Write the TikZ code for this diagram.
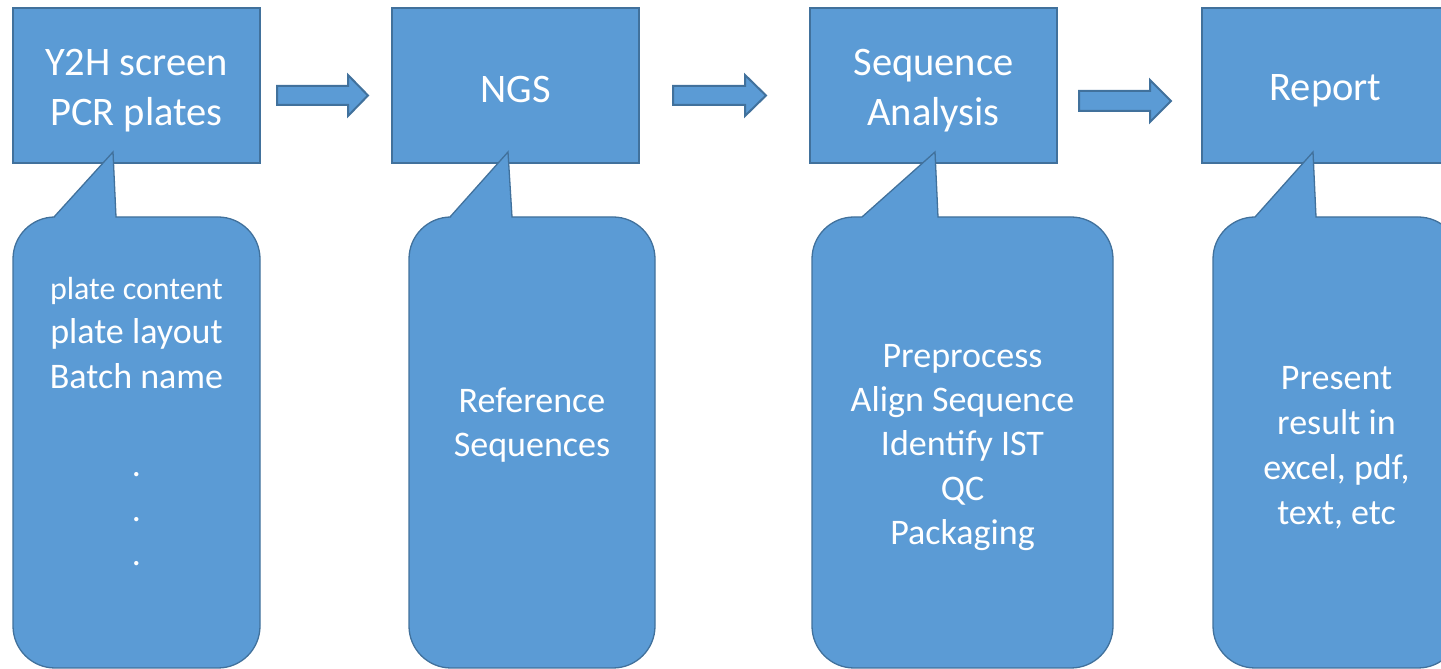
\documentclass[tikz,border=0pt]{standalone}
\usepackage{fontspec}
\setmainfont{Carlito}
\definecolor{boxfill}{HTML}{5B9BD5}
\definecolor{boxline}{HTML}{41719C}

% speech bubble: left, right, tail base left, tail tip x, tail base right
\newcommand\speechbubble[5]{%
  \draw[bubble] (#3,452) -- (#4,517) -- (#5,452)
    -- ({#2-42},452) arc[start angle=90,end angle=0,radius=42]
    -- (#2,43) arc[start angle=0,end angle=-90,radius=42]
    -- ({#1+42},1) arc[start angle=270,end angle=180,radius=42]
    -- (#1,410) arc[start angle=180,end angle=90,radius=42]
    -- cycle;}

% block arrow: tail x, head base x, tip x, centre y, shaft half height, head half height
\newcommand\blockarrow[6]{%
  \draw[flow] (#1,{#4-#5}) -- (#2,{#4-#5}) -- (#2,{#4-#6}) -- (#3,#4)
    -- (#2,{#4+#6}) -- (#2,{#4+#5}) -- (#1,{#4+#5}) -- cycle;}

\begin{document}
\begin{tikzpicture}[x=1pt,y=1pt,
  stage/.style={draw=boxline, fill=boxfill, line width=1.3pt,
    minimum width=247pt, minimum height=155pt, inner sep=0pt},
  stagetext/.style={text=white, align=center, inner sep=0pt,
    font=\fontsize{40.5}{50}\selectfont},
  bubble/.style={draw=boxline, fill=boxfill, line width=1.3pt, line join=miter},
  flow/.style={draw=boxline, fill=boxfill, line width=2pt, line join=miter},
  note/.style={text=white, align=center, inner sep=0pt,
    font=\fontsize{36}{44.3}\selectfont}]

\useasboundingbox (0,0) rectangle (1441,669);
\clip (0,0) rectangle (1441,669);

% process stages
\node[stage] (s1) at (136.5,583.5) {};
\node[stage] (s2) at (515.5,583.5) {};
\node[stage] (s3) at (933.5,583.5) {};
\node[stage] (s4) at (1325.5,583.5) {};
\node[stagetext] (t1) at ([yshift=-5]s1.center) {Y2H screen\\PCR plates};
\node[stagetext] (t2) at ([yshift=-4]s2.center) {NGS};
\node[stagetext] (t3) at ([yshift=-5]s3.center) {Sequence\\Analysis};
\node[stagetext] (t4) at ([yshift=-5]s4.center) {Report};

% arrows between stages
\blockarrow{277}{348}{368}{573.5}{9.5}{20.5}
\blockarrow{673}{745}{766}{573.5}{9.5}{20.5}
\blockarrow{1079}{1150}{1171}{568}{10}{21}

% detail bubbles under each stage
\speechbubble{13}{260}{54}{113}{116}
\speechbubble{409}{655}{450}{508}{512}
\speechbubble{812}{1113}{862}{935}{938}
\speechbubble{1213}{1460}{1255}{1313}{1316}

% bubble texts
\node[note] (d1) at (136.5,247.5)
  {{\fontsize{32}{44}\selectfont plate content}\\plate layout\\Batch name\\[44.5pt].\\.\\.};
\node[note] (d2) at (532,244) {Reference\\Sequences};
\node[note] (d3) at (962.5,221.5)
  {Preprocess\\Align Sequence\\Identify IST\\QC\\Packaging};
\node[note, font=\fontsize{36}{45}\selectfont] (d4) at (1336.5,221) {Present\\result in\\excel, pdf,\\text, etc};
\end{tikzpicture}
\end{document}
